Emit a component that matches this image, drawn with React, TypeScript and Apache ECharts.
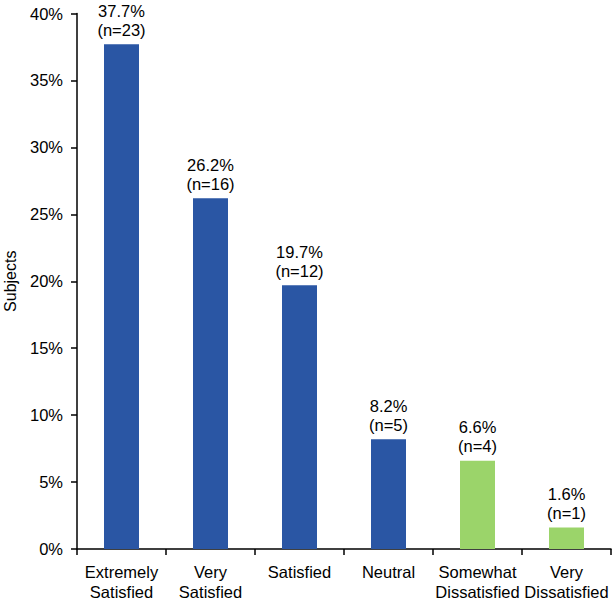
import React, { useEffect, useRef } from "react";
import * as echarts from "echarts";

const categories = ["Extremely\nSatisfied", "Very\nSatisfied", "Satisfied", "Neutral", "Somewhat\nDissatisfied", "Very\nDissatisfied"];
const percents = [37.7, 26.2, 19.7, 8.2, 6.6, 1.6];
const counts = [23, 16, 12, 5, 4, 1];
const barColors = ["#2a56a4", "#2a56a4", "#2a56a4", "#2a56a4", "#9bd46a", "#9bd46a"];

const FONT = "'Liberation Sans', Arial, Helvetica, sans-serif";

export default function App() {
  const ref = useRef<HTMLDivElement>(null);
  useEffect(() => {
    if (!ref.current) return;
    const chart = echarts.init(ref.current, undefined, { renderer: "svg" });
    chart.setOption({
      animation: false,
      grid: { left: 77, right: 3, top: 13.5, bottom: 51, containLabel: false, outerBoundsMode: "none" },
      xAxis: {
        type: "category",
        data: categories,
        axisLine: { show: true, lineStyle: { color: "#000", width: 1.5 } },
        axisTick: { show: true, length: 6, alignWithLabel: false, lineStyle: { color: "#000", width: 1.5 } },
        axisLabel: { color: "#000", fontSize: 16.5, fontFamily: FONT, margin: 13, lineHeight: 20, interval: 0 },
      },
      yAxis: {
        type: "value",
        min: 0,
        max: 40,
        interval: 5,
        name: "Subjects",
        nameLocation: "middle",
        nameGap: 59,
        nameRotate: 90,
        nameTextStyle: { color: "#000", fontSize: 16, fontFamily: FONT },
        splitLine: { show: false },
        axisLine: { show: true, lineStyle: { color: "#000", width: 1.5 } },
        axisTick: { show: true, length: 6, lineStyle: { color: "#000", width: 1.5 } },
        axisLabel: { color: "#000", fontSize: 16.5, fontFamily: FONT, margin: 14, formatter: "{value}%" },
      },
      series: [
        {
          type: "bar",
          barWidth: 35,
          data: percents.map((v, i) => ({ value: v, itemStyle: { color: barColors[i] } })),
          label: {
            show: true,
            position: "top",
            distance: 5,
            color: "#000",
            fontSize: 16.5,
            fontFamily: FONT,
            lineHeight: 19,
            formatter: (p: any) => `${percents[p.dataIndex].toFixed(1)}%\n(n=${counts[p.dataIndex]})`,
          },
        },
      ],
    });
    return () => chart.dispose();
  }, []);
  return <div ref={ref} style={{ width: 614, height: 600, position: "absolute", left: 0, top: 0 }} />;
}
